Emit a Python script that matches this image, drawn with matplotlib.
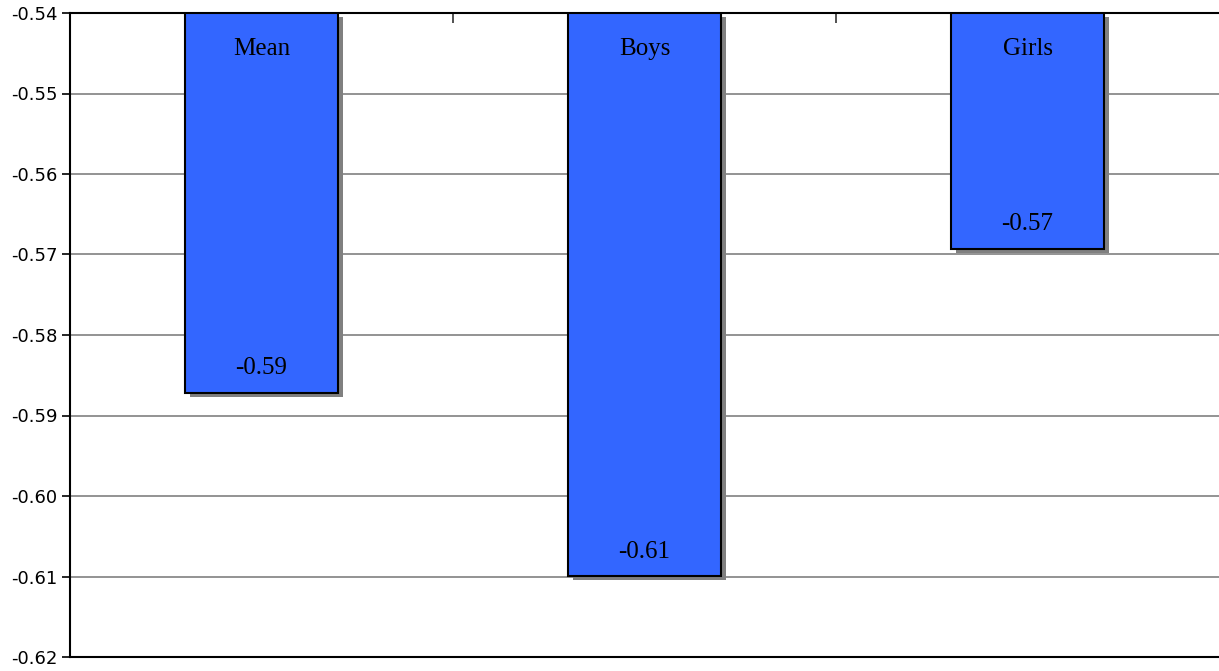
import numpy as np
import matplotlib
matplotlib.use('Agg')
import matplotlib.pyplot as plt
from matplotlib.transforms import ScaledTranslation, offset_copy

# data
categories = ['Mean', 'Boys', 'Girls']
values = [-0.5872, -0.6100, -0.5693]
value_labels = ['-0.59', '-0.61', '-0.57']
yticks = [-0.54, -0.55, -0.56, -0.57, -0.58, -0.59, -0.60, -0.61, -0.62]

base = -0.54
bar_color = '#3366FF'

fig = plt.figure(figsize=(12.19, 6.71), dpi=100)
ax = fig.add_axes([70 / 1219, 1 - 657 / 671, 1 - 70 / 1219, (657 - 13) / 671])

x = np.arange(len(categories))
heights = [v - base for v in values]

# drop shadow, shifted right and down
shadow_tr = ax.transData + ScaledTranslation(5 / 100, -4 / 100, fig.dpi_scale_trans)
shadows = ax.bar(x, heights, bottom=base, width=0.4, color='#808080', zorder=2)
for s in shadows:
    s.set_transform(shadow_tr)

ax.bar(x, heights, bottom=base, width=0.4, color=bar_color,
       edgecolor='black', linewidth=1.5, zorder=3)

for xi, cat, v, lab in zip(x, categories, values, value_labels):
    ax.text(xi, base, cat, ha='center', va='center', fontsize=18,
            family='Liberation Serif', zorder=4,
            transform=offset_copy(ax.transData, fig=fig, y=-36, units='dots'))
    ax.text(xi, v, lab, ha='center', va='center', fontsize=18,
            family='Liberation Serif', zorder=4,
            transform=offset_copy(ax.transData, fig=fig, y=25, units='dots'))

ax.set_xlim(-0.5, 2.5)
ax.set_ylim(-0.62, -0.54)
ax.set_yticks(yticks)
ax.set_yticklabels(['%.2f' % t for t in yticks], fontsize=13, family='DejaVu Sans')
ax.yaxis.grid(True, color='#808080', linewidth=1.2, zorder=0)
ax.set_axisbelow(True)

# category boundary ticks on the top axis
ax.xaxis.tick_top()
ax.set_xticks([0.5, 1.5])
ax.set_xticklabels([])
ax.tick_params(axis='x', direction='in', length=7, width=1.2, color='#333333')
ax.tick_params(axis='y', direction='out', length=6, width=1.2, pad=3)

ax.spines['right'].set_visible(False)
for sp in ['top', 'bottom', 'left']:
    ax.spines[sp].set_linewidth(1.5)
    ax.spines[sp].set_color('black')

fig.savefig('out.png', dpi=100)
